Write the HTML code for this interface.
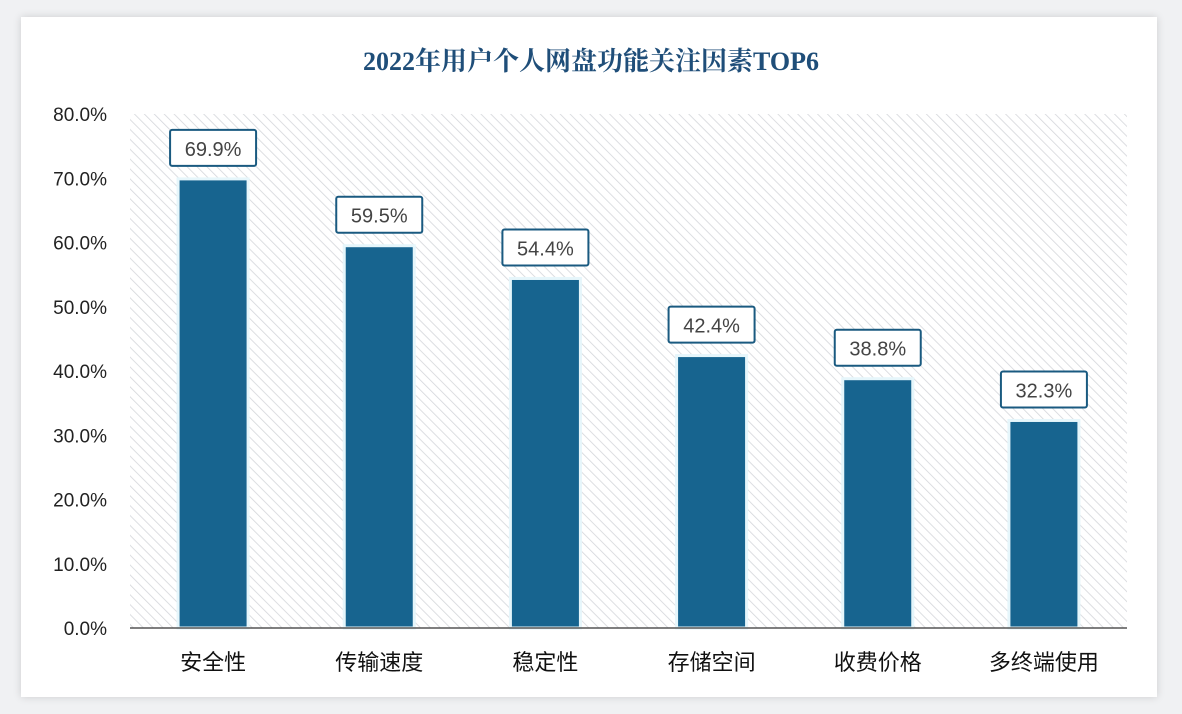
<!DOCTYPE html>
<html><head><meta charset="utf-8"><style>
body{margin:0;width:1182px;height:714px;background:#f0f1f3;overflow:hidden;font-family:"Liberation Sans","Noto Sans CJK SC",sans-serif}
#card{position:absolute;left:21px;top:17px;width:1136px;height:680px;background:#fff;box-shadow:0 0 8px rgba(0,0,0,0.15)}
</style></head><body>
<div id="card"></div>
<svg id="chart" width="1182" height="714" style="position:absolute;left:0;top:0">
<defs><pattern id="hatch" width="7" height="7" patternUnits="userSpaceOnUse" patternTransform="rotate(-45)"><rect width="7" height="7" fill="#fff"/><line x1="0" y1="0" x2="0" y2="7" stroke="#d4d6da" stroke-width="1.6"/></pattern></defs>
<text x="591" y="70" text-anchor="middle" font-size="26" font-weight="bold" fill="#1f4e79" font-family='"Liberation Serif","Noto Serif CJK SC",serif'>2022年用户个人网盘功能关注因素TOP6</text>
<g id="plot"></g>
</svg>
<script>
const categories=["安全性","传输速度","稳定性","存储空间","收费价格","多终端使用"];
const values=[69.9,59.5,54.4,42.4,38.8,32.3];
const ticks=[0,10,20,30,40,50,60,70,80];
const L=130,R=1127,T=114,B=628,max=80;
const y=v=>B-(v/max)*(B-T);
const band=(R-L)/categories.length;
const NS="http://www.w3.org/2000/svg";
const g=document.getElementById('plot');
function mk(t,a){const e=document.createElementNS(NS,t);for(const k in a)e.setAttribute(k,a[k]);g.appendChild(e);return e;}
const bg=mk('rect',{x:L,y:T,width:R-L,height:B-T,fill:'url(#hatch)'});


ticks.forEach(t=>{const e=mk('text',{x:107,y:y(t)+7,'text-anchor':'end','font-size':19,fill:'#222'});e.textContent=t.toFixed(1)+'%';

});
const bw=70;
categories.forEach((c,i)=>{const cx=L+band*(i+0.5);
const r=mk('rect',{x:cx-bw/2,y:y(values[i]),width:bw,height:B-y(values[i]),fill:'#17648f',stroke:'#e6f6fb','stroke-width':3});


const lb=mk('rect',{x:cx-43,y:y(values[i])-49,width:86,height:36,fill:'#fff',stroke:'#1a5a80','stroke-width':2,rx:2});


const vt=mk('text',{x:cx,y:y(values[i])-23,'text-anchor':'middle','font-size':20,fill:'#444'});vt.textContent=values[i].toFixed(1)+'%';


const ct=mk('text',{x:cx,y:670,'text-anchor':'middle','font-size':22,fill:'#111'});ct.textContent=c;

});
const ax=mk('line',{x1:L,y1:B,x2:R,y2:B,stroke:'#555','stroke-width':1.5});


</script>
</body></html>
